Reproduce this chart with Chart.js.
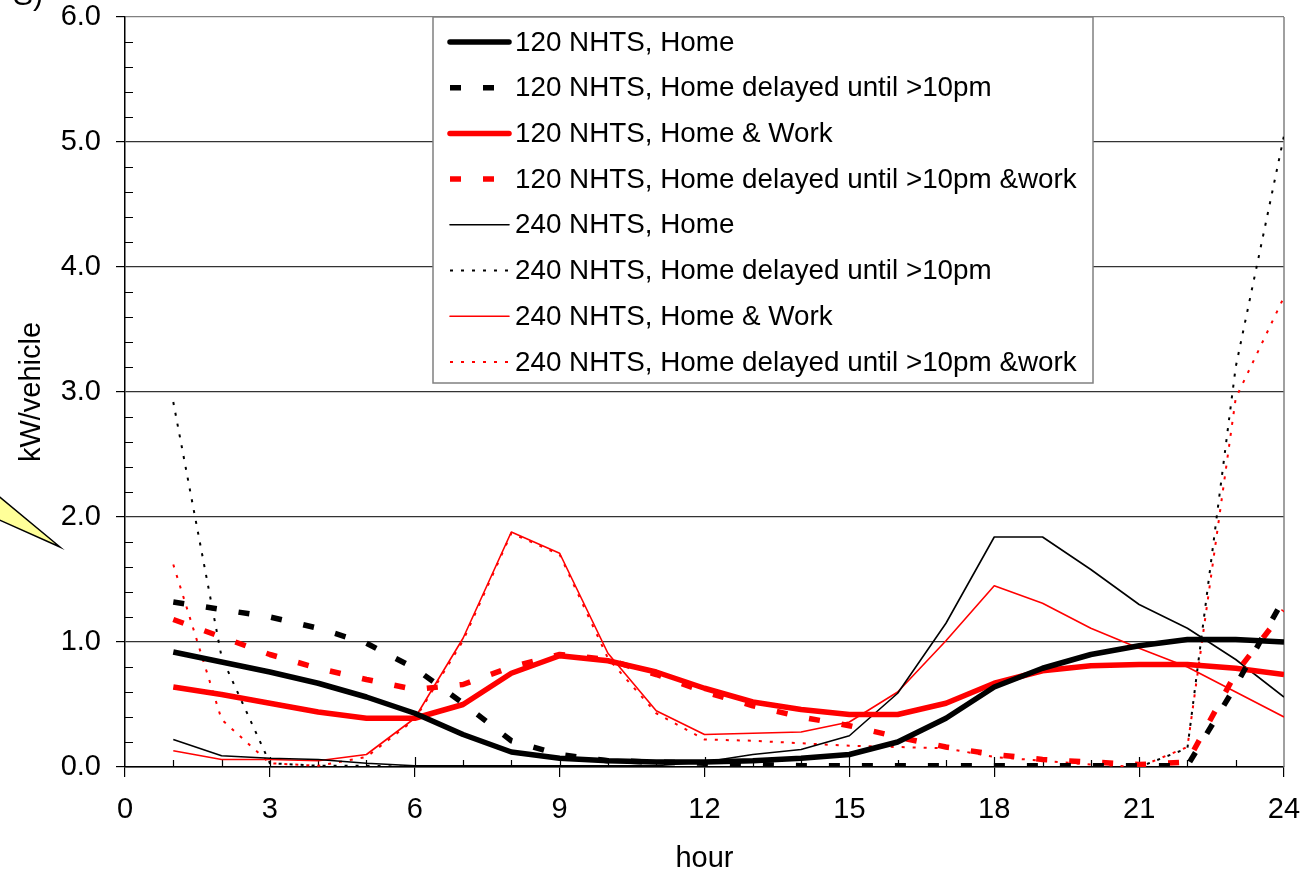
<!DOCTYPE html>
<html>
<head>
<meta charset="utf-8">
<title>kW/vehicle by hour</title>
<script src="https://cdn.jsdelivr.net/npm/chart.js@4.4.1/dist/chart.umd.min.js"></script>
<style>
  html, body { margin: 0; padding: 0; background: #fff; }
  #chartWrap { width: 1313px; height: 873px; }
</style>
</head>
<body>
<div id="chartWrap"><canvas id="chartLoad" width="1313" height="873"></canvas></div>
<script>
// ===========================================
// PERFIL DE CARGA - kW/vehicle por hora
// ===========================================

// ============================
// 1. DADOS
// ============================
const hours = [1, 2, 3, 4, 5, 6, 7, 8, 9, 10, 11, 12, 13, 14, 15, 16, 17, 18, 19, 20, 21, 22, 23, 24];
const xTickValues = [0, 3, 6, 9, 12, 15, 18, 21, 24];
const yTickValues = [0, 1, 2, 3, 4, 5, 6];

const seriesNames = [
    '120 NHTS, Home',
    '120 NHTS, Home delayed until >10pm',
    '120 NHTS, Home & Work',
    '120 NHTS, Home delayed until >10pm &work',
    '240 NHTS, Home',
    '240 NHTS, Home delayed until >10pm',
    '240 NHTS, Home & Work',
    '240 NHTS, Home delayed until >10pm &work'
];

const home120 = [0.92, 0.84, 0.76, 0.67, 0.56, 0.43, 0.26, 0.12, 0.07, 0.05, 0.04, 0.04, 0.05, 0.07, 0.10, 0.20, 0.39, 0.64, 0.79, 0.90, 0.97, 1.02, 1.02, 1.00];
const homeDelayed120 = [1.32, 1.26, 1.20, 1.11, 0.99, 0.79, 0.51, 0.21, 0.10, 0.05, 0.04, 0.03, 0.02, 0.01, 0.01, 0.01, 0.01, 0.01, 0.01, 0.01, 0.01, 0.01, 0.65, 1.35];
const homeWork120 = [0.64, 0.58, 0.51, 0.44, 0.39, 0.39, 0.50, 0.75, 0.89, 0.85, 0.76, 0.63, 0.52, 0.46, 0.42, 0.42, 0.51, 0.67, 0.77, 0.81, 0.82, 0.82, 0.79, 0.74];
const homeDelayedWork120 = [1.18, 1.04, 0.90, 0.79, 0.70, 0.62, 0.66, 0.80, 0.90, 0.86, 0.74, 0.60, 0.49, 0.40, 0.33, 0.24, 0.16, 0.10, 0.06, 0.04, 0.02, 0.04, 0.75, 1.25];
const home240 = [0.22, 0.09, 0.07, 0.06, 0.03, 0.01, 0.01, 0.01, 0.01, 0.01, 0.01, 0.04, 0.10, 0.14, 0.25, 0.59, 1.15, 1.84, 1.84, 1.58, 1.30, 1.11, 0.86, 0.56];
const homeDelayed240 = [2.92, 0.88, 0.03, 0.01, 0.01, 0.00, 0.00, 0.00, 0.00, 0.00, 0.00, 0.00, 0.00, 0.00, 0.00, 0.00, 0.00, 0.00, 0.00, 0.00, 0.00, 0.15, 3.20, 5.05];
const homeWork240 = [0.13, 0.06, 0.06, 0.05, 0.10, 0.39, 1.03, 1.88, 1.71, 0.91, 0.45, 0.26, 0.27, 0.28, 0.36, 0.60, 1.01, 1.45, 1.31, 1.11, 0.95, 0.80, 0.60, 0.40];
const homeDelayedWork240 = [1.62, 0.38, 0.03, 0.01, 0.08, 0.38, 1.01, 1.87, 1.70, 0.87, 0.43, 0.22, 0.21, 0.19, 0.17, 0.16, 0.15, 0.08, 0.05, 0.02, 0.00, 0.16, 2.95, 3.76];

const FONT = '"Liberation Sans", Arial, sans-serif';

// ============================
// 2. ESTILOS DAS SÉRIES
// ============================
const thick = 5.5, thin = 1.6, dotW = 2;
const dashThick = [11, 22];
const dotted = [3, 8];

const toPoints = vals => hours.map((h, i) => ({ x: h, y: vals[i] }));

const datasets = [
    { data: home120, color: '#000000', width: thick, dash: [] },
    { data: homeDelayed120, color: '#000000', width: thick, dash: dashThick },
    { data: homeWork120, color: '#ff0000', width: thick, dash: [] },
    { data: homeDelayedWork120, color: '#ff0000', width: thick, dash: dashThick },
    { data: home240, color: '#000000', width: thin, dash: [] },
    { data: homeDelayed240, color: '#000000', width: dotW, dash: dotted },
    { data: homeWork240, color: '#ff0000', width: thin, dash: [] },
    { data: homeDelayedWork240, color: '#ff0000', width: dotW, dash: dotted }
].map((s, i) => ({
    label: seriesNames[i],
    data: toPoints(s.data),
    borderColor: s.color,
    backgroundColor: s.color,
    borderWidth: s.width,
    borderDash: s.dash,
    borderCapStyle: 'butt',
    borderJoinStyle: 'round',
    pointRadius: 0,
    tension: 0,
    fill: false
}));

// ============================
// 3. PLUGIN: fundo, ticks menores, borda, legenda
// ============================
const decorPlugin = {
    id: 'decor',
    beforeDraw(chart) {
        const ctx = chart.ctx;
        ctx.save();
        ctx.fillStyle = '#ffffff';
        ctx.fillRect(0, 0, chart.width, chart.height);
        ctx.restore();
    },
    beforeDatasetsDraw(chart) {
        const { ctx, chartArea: a, scales: { x, y } } = chart;
        ctx.save();
        ctx.strokeStyle = '#000';
        ctx.lineWidth = 1.2;
        ctx.beginPath();
        // minor ticks eixo Y (para dentro)
        for (let i = 1; i < 30; i++) {
            if (i % 5 === 0) continue;
            const yp = Math.round(y.getPixelForValue(i / 5)) + 0.5;
            ctx.moveTo(a.left, yp);
            ctx.lineTo(a.left + 8, yp);
        }
        // ticks eixo X (para dentro)
        for (let h = 1; h < 24; h++) {
            const xp = Math.round(x.getPixelForValue(h)) + 0.5;
            const len = h % 3 === 0 ? 10 : 7;
            ctx.moveTo(xp, a.bottom);
            ctx.lineTo(xp, a.bottom - len);
        }
        ctx.stroke();
        // borda direita
        ctx.strokeStyle = '#808080';
        ctx.lineWidth = 1.5;
        ctx.beginPath();
        ctx.moveTo(a.right, a.top);
        ctx.lineTo(a.right, a.bottom);
        ctx.stroke();
        ctx.restore();
    },
    afterDatasetsDraw(chart) {
        const ctx = chart.ctx;
        ctx.save();

        // caixa da legenda
        const bx = 433, by = 17, bw = 660, bh = 366;
        ctx.fillStyle = '#ffffff';
        ctx.fillRect(bx, by, bw, bh);
        ctx.strokeStyle = '#808080';
        ctx.lineWidth = 1.5;
        ctx.strokeRect(bx, by, bw, bh);

        ctx.font = '27.8px ' + FONT;
        ctx.textBaseline = 'middle';
        ctx.textAlign = 'left';
        chart.data.datasets.forEach((ds, i) => {
            const ry = 42 + i * 45.7;
            ctx.beginPath();
            ctx.strokeStyle = ds.borderColor;
            ctx.lineWidth = ds.borderWidth;
            ctx.setLineDash(ds.borderDash);
            ctx.lineCap = ds.borderDash.length ? 'butt' : 'round';
            ctx.moveTo(450, ry);
            ctx.lineTo(509, ry);
            ctx.stroke();
            ctx.setLineDash([]);
            ctx.fillStyle = '#000';
            ctx.fillText(ds.label, 515, ry + 1);
        });

        // seta amarela (resto do callout)
        ctx.beginPath();
        ctx.moveTo(-5, 493);
        ctx.lineTo(60, 547);
        ctx.lineTo(-5, 518);
        ctx.closePath();
        ctx.fillStyle = '#ffff99';
        ctx.fill();
        ctx.strokeStyle = '#000';
        ctx.lineWidth = 1.5;
        ctx.lineCap = 'butt';
        ctx.stroke();

        // fragmento de texto no canto
        ctx.fillStyle = '#000';
        ctx.font = '30px ' + FONT;
        ctx.textBaseline = 'alphabetic';
        ctx.fillText('S)', 13, 5);

        ctx.restore();
    }
};

// ============================
// 4. GRÁFICO
// ============================
function renderChartLoad() {
    const ctx = document.getElementById('chartLoad');
    const tickFont = { family: FONT, size: 29 };

    return new Chart(ctx.getContext('2d'), {
        type: 'line',
        data: { datasets },
        options: {
            responsive: false,
            animation: false,
            devicePixelRatio: 1,
            layout: { padding: { left: 0, right: 29, top: 17, bottom: 0 } },
            plugins: {
                legend: { display: false },
                tooltip: { enabled: false }
            },
            scales: {
                x: {
                    type: 'linear',
                    min: 0,
                    max: 24,
                    afterBuildTicks: s => { s.ticks = xTickValues.map(v => ({ value: v })); },
                    afterFit: s => { s.height = 106; s.paddingLeft = 0; s.paddingRight = 0; },
                    ticks: { font: tickFont, color: '#000', padding: 16, maxRotation: 0 },
                    grid: { drawOnChartArea: false, tickLength: 10, color: '#000', lineWidth: 1.2 },
                    border: { display: true, color: '#000', width: 1.5 },
                    title: { display: true, text: 'hour', color: '#000', font: { family: FONT, size: 29, lineHeight: 1 }, padding: { top: 0, bottom: 0 } }
                },
                y: {
                    min: 0,
                    max: 6,
                    afterBuildTicks: s => { s.ticks = yTickValues.map(v => ({ value: v })); },
                    afterFit: s => { s.width = 125; s.paddingTop = 0; s.paddingBottom = 0; },
                    ticks: { font: { family: FONT, size: 29, lineHeight: 1 }, color: '#000', padding: 15, callback: v => v.toFixed(1) },
                    grid: {
                        tickLength: 9,
                        lineWidth: 1.2,
                        color: c => (c.tick && c.tick.value === 6) ? '#808080' : '#333333',
                        tickColor: '#000'
                    },
                    border: { display: true, color: '#000', width: 1.5 },
                    title: { display: true, text: 'kW/vehicle', color: '#000', font: { family: FONT, size: 29, lineHeight: 1 }, padding: { top: 17, bottom: 0 } }
                }
            }
        },
        plugins: [decorPlugin]
    });
}

renderChartLoad();
</script>
</body>
</html>
